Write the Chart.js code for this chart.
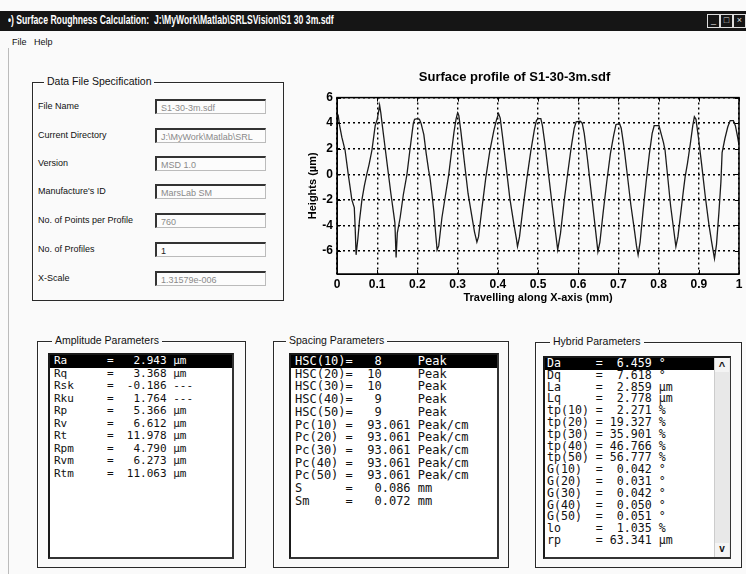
<!DOCTYPE html>
<html><head><meta charset="utf-8">
<script src="https://cdn.jsdelivr.net/npm/chart.js@4.4.0/dist/chart.umd.min.js"></script>
<style>
html,body{margin:0;padding:0}
body{width:746px;height:574px;background:#fafafa;position:relative;overflow:hidden;font-family:"Liberation Sans",Arial,sans-serif;color:#111}
.a{position:absolute}
#tb{left:0;top:11px;width:746px;height:20px;background:#151515}
#tbt{left:8px;top:13px;color:#fff;font-weight:bold;font-size:12px;white-space:nowrap;transform-origin:0 0}
.wb{top:14px;width:11px;height:12px;border:1px solid #ddd;color:#ddd;font-size:9px;line-height:11px;text-align:center}
#menu{left:12px;top:37px;font-size:9px}
.grp{border:1px solid #2a2a2a;box-shadow:inset 1px 1px 0 #fff}
.gt{font-size:10.5px;background:#fafafa;padding:0 3px;white-space:nowrap}
.lbl{left:38px;font-size:9px;white-space:nowrap}
.fld{left:155px;width:111px;height:15px;border-top:2px solid #333;border-left:2px solid #333;border-right:1px solid #bbb;border-bottom:1px solid #bbb;font-size:9px;line-height:15px;color:#8a8a8a;padding-left:4px;box-sizing:border-box;white-space:nowrap;overflow:hidden;background:#fcfcfc}
.lb{border-top:2px solid #1a1a1a;border-left:2px solid #1a1a1a;border-right:2px solid #333;border-bottom:2px solid #333;background:#fff;overflow:hidden;box-sizing:border-box}
.lb pre{margin:0;white-space:pre}
.sel{background:#000;color:#fff}
</style></head>
<body>
<div id="tb" class="a"></div>
<div id="tbt" class="a">&#x2022;) Surface Roughness Calculation:&nbsp; J:\MyWork\Matlab\SRLSVision\S1 30 3m.sdf</div>
<div class="a wb" style="left:707px">_</div>
<div class="a wb" style="left:720px">&#x25a1;</div>
<div class="a wb" style="left:733px">&#xd7;</div>
<div id="menu" class="a">File&nbsp;&nbsp; Help</div>
<div class="a" style="left:8px;top:48px;width:1px;height:526px;background:#bbb"></div>

<!-- Data file specification -->
<div class="a grp" style="left:32px;top:82px;width:250px;height:217px"></div>
<div class="a gt" style="left:44px;top:75px">Data File Specification</div>
<div id="spec"></div>

<canvas id="c" class="a" width="456" height="244" style="left:290px;top:66px"></canvas>

<!-- Amplitude -->
<div class="a grp" style="left:37px;top:341px;width:207px;height:225px"></div>
<div class="a gt" style="left:52px;top:334px">Amplitude Parameters</div>
<div class="a lb" id="amp" style="left:48px;top:353px;width:186px;height:206px;font-family:'Liberation Mono',monospace;font-size:11px;line-height:12.5px"></div>

<!-- Spacing -->
<div class="a grp" style="left:273px;top:341px;width:234px;height:225px"></div>
<div class="a gt" style="left:286px;top:334px">Spacing Parameters</div>
<div class="a lb" id="spc" style="left:289px;top:353px;width:210px;height:206px;font-family:'Liberation Mono',monospace;font-size:12px;line-height:12.7px"></div>

<!-- Hybrid -->
<div class="a grp" style="left:535px;top:342px;width:205px;height:224px"></div>
<div class="a gt" style="left:550px;top:335px">Hybrid Parameters</div>
<div class="a lb" id="hyb" style="left:543px;top:356px;width:188px;height:203px;font-family:'DejaVu Sans Mono',monospace;font-size:11.6px;line-height:11.8px"></div>
<div class="a" style="left:714px;top:358px;width:15px;height:199px;background:#e8e8e8;border-left:1px solid #ccc"></div>
<div class="a" style="left:715px;top:358px;width:14px;height:14px;background:#f4f4f4;font-size:11px;text-align:center;line-height:16px;font-weight:bold">^</div>
<div class="a" style="left:715px;top:543px;width:14px;height:14px;background:#f4f4f4;font-size:10px;text-align:center;line-height:12px;font-weight:bold">v</div>

<script>
// ---------- data ----------
const specLabels = ["File Name","Current Directory","Version","Manufacture's ID","No. of Points per Profile","No. of Profiles","X-Scale"];
const specValues = ["S1-30-3m.sdf","J:\\MyWork\\Matlab\\SRL","MSD 1.0","MarsLab SM","760","1","1.31579e-006"];

const ampRows = [
"Ra      =   2.943 \u00b5m",
"Rq      =   3.368 \u00b5m",
"Rsk     =  -0.186 ---",
"Rku     =   1.764 ---",
"Rp      =   5.366 \u00b5m",
"Rv      =   6.612 \u00b5m",
"Rt      =  11.978 \u00b5m",
"Rpm     =   4.790 \u00b5m",
"Rvm     =   6.273 \u00b5m",
"Rtm     =  11.063 \u00b5m"];

const spcRows = [
"HSC(10)=   8     Peak",
"HSC(20)=  10     Peak",
"HSC(30)=  10     Peak",
"HSC(40)=   9     Peak",
"HSC(50)=   9     Peak",
"Pc(10) =  93.061 Peak/cm",
"Pc(20) =  93.061 Peak/cm",
"Pc(30) =  93.061 Peak/cm",
"Pc(40) =  93.061 Peak/cm",
"Pc(50) =  93.061 Peak/cm",
"S      =   0.086 mm",
"Sm     =   0.072 mm"];

const hybRows = [
"Da     =  6.459 \u00b0",
"Dq     =  7.618 \u00b0",
"La     =  2.859 \u00b5m",
"Lq     =  2.778 \u00b5m",
"tp(10) =  2.271 %",
"tp(20) = 19.327 %",
"tp(30) = 35.901 %",
"tp(40) = 46.766 %",
"tp(50) = 56.777 %",
"G(10)  =  0.042 \u00b0",
"G(20)  =  0.031 \u00b0",
"G(30)  =  0.042 \u00b0",
"G(40)  =  0.050 \u00b0",
"G(50)  =  0.051 \u00b0",
"lo     =  1.035 %",
"rp     = 63.341 \u00b5m"];

const profileX = [0.000,0.003,0.006,0.012,0.020,0.028,0.037,0.043,0.045,0.0475,0.052,0.056,0.062,0.068,0.074,0.080,0.087,0.095,0.100,0.104,0.106,0.109,0.112,0.120,0.128,0.134,0.141,0.144,0.147,0.150,0.157,0.165,0.174,0.181,0.187,0.190,0.193,0.200,0.205,0.209,0.216,0.222,0.228,0.231,0.236,0.241,0.245,0.249,0.253,0.261,0.270,0.278,0.285,0.291,0.296,0.300,0.303,0.308,0.316,0.326,0.335,0.342,0.348,0.352,0.360,0.370,0.380,0.390,0.397,0.402,0.406,0.412,0.420,0.430,0.440,0.446,0.449,0.454,0.462,0.472,0.482,0.491,0.496,0.500,0.507,0.511,0.518,0.527,0.536,0.543,0.549,0.556,0.565,0.574,0.583,0.590,0.595,0.605,0.610,0.615,0.623,0.632,0.640,0.645,0.649,0.654,0.662,0.671,0.680,0.688,0.694,0.703,0.707,0.714,0.722,0.731,0.740,0.745,0.749,0.754,0.761,0.769,0.777,0.784,0.789,0.801,0.806,0.812,0.816,0.822,0.830,0.837,0.843,0.848,0.856,0.862,0.866,0.872,0.879,0.885,0.889,0.893,0.899,0.907,0.916,0.925,0.932,0.939,0.944,0.950,0.955,0.958,0.965,0.972,0.978,0.986,0.991,0.996,1.000];
const profileY = [4.8,4.6,3.9,2.9,1.9,0.0,-2.0,-2.6,-4.0,-6.3,-5.0,-3.6,-2.0,-0.9,0.0,0.8,1.9,3.8,4.3,5.0,5.4,4.8,4.0,2.0,0.0,-1.5,-3.1,-3.8,-6.5,-4.6,-3.4,-1.6,0.0,1.8,3.3,4.0,4.3,4.35,4.3,4.0,3.1,1.6,0.3,-0.2,-1.5,-2.9,-4.5,-5.9,-5.6,-3.4,-1.6,0.0,1.8,3.3,4.3,4.8,4.6,3.4,1.2,-1.5,-3.2,-4.5,-5.3,-4.9,-2.8,-0.3,1.8,3.4,4.3,4.75,4.4,2.9,0.8,-1.9,-3.9,-5.0,-5.65,-4.9,-2.8,-0.4,1.8,3.5,4.2,4.35,4.35,3.8,2.2,-0.2,-2.6,-4.4,-5.9,-4.6,-2.1,0.1,2.2,3.6,4.1,4.15,4.0,3.2,1.2,-1.3,-3.5,-4.9,-6.05,-5.3,-3.0,-0.6,1.6,3.0,3.9,3.95,3.6,2.1,0.0,-2.4,-4.4,-5.6,-6.3,-5.3,-3.0,-0.6,1.6,3.2,3.8,3.8,3.2,2.5,1.9,0.0,-2.5,-4.2,-5.65,-4.9,-2.8,-1.2,-0.2,0.9,2.4,3.8,4.5,4.3,2.9,0.8,-1.7,-3.9,-5.3,-6.6,-5.5,-3.0,-0.6,1.7,2.8,3.7,4.2,4.2,3.8,3.0,2.3];

const xTicks = [0,0.1,0.2,0.3,0.4,0.5,0.6,0.7,0.8,0.9,1];
const xTickLabels = ["0","0.1","0.2","0.3","0.4","0.5","0.6","0.7","0.8","0.9","1"];
const yTicks = [-6,-4,-2,0,2,4,6];
const yTickLabels = ["-6","-4","-2","0","2","4","6"];

// ---------- GUI ----------
const tbt = document.getElementById('tbt');
tbt.style.transform = 'scaleX(' + (326 / tbt.scrollWidth) + ')';

const specY = [107,136,164,192,221,250,279];
let h = '';
specLabels.forEach((l,i)=>{
  h += `<div class="a lbl" style="top:${specY[i]-6}px">${l}</div>`;
  h += `<div class="a fld" style="top:${specY[i]-8}px;${specValues[i]==='1'?'color:#222':''}">${specValues[i]}</div>`;
});
document.getElementById('spec').innerHTML = h;

function fill(id, rows, padL){
  const el = document.getElementById(id);
  el.innerHTML = rows.map((r,i)=>`<pre class="${i===0?'sel':''}" style="padding-left:${padL}px">${r}</pre>`).join('');
}
fill('amp', ampRows, 4);
fill('spc', spcRows, 4);
fill('hyb', hybRows, 2);
document.querySelector('#hyb pre').style.marginRight = '15px';

// ---------- chart ----------
const frame = {
  id:'frame',
  afterDraw(c){
    const {ctx, chartArea:a, scales} = c;
    ctx.save();
    ctx.strokeStyle = '#000';
    ctx.lineWidth = 1.5;
    ctx.strokeRect(a.left, a.top, a.right-a.left, a.bottom-a.top);
    ctx.lineWidth = 1;
    ctx.beginPath();
    xTicks.forEach(v=>{
      const px = Math.round(scales.x.getPixelForValue(v)) + 0.5;
      ctx.moveTo(px, a.bottom); ctx.lineTo(px, a.bottom-4);
      ctx.moveTo(px, a.top); ctx.lineTo(px, a.top+4);
    });
    yTicks.forEach(v=>{
      const py = Math.round(scales.y.getPixelForValue(v)) + 0.5;
      ctx.moveTo(a.left, py); ctx.lineTo(a.left+4, py);
      ctx.moveTo(a.right, py); ctx.lineTo(a.right-4, py);
    });
    ctx.stroke();
    ctx.restore();
  }
};

const tickFont = {family:'Liberation Sans', size:12, weight:'bold'};
const gridOpts = {color:'#000', lineWidth:1.4, drawTicks:false, borderDash:[2,3]};
new Chart(document.getElementById('c'), {
  type:'line',
  data:{datasets:[{
    data: profileX.map((x,i)=>({x:x, y:profileY[i]})),
    borderColor:'#1c1c1c', borderWidth:1.3, pointRadius:0, tension:0, fill:false
  }]},
  options:{
    animation:false, responsive:false, devicePixelRatio:1,
    layout:{padding:{left:0,right:7,top:0,bottom:0}},
    plugins:{
      legend:{display:false}, tooltip:{enabled:false},
      title:{display:true, text:'Surface profile of S1-30-3m.sdf', color:'#000',
        font:{family:'Liberation Sans', size:13, weight:'bold'}, padding:{top:4,bottom:12}}
    },
    scales:{
      x:{type:'linear', min:0, max:1,
        afterBuildTicks:s=>{ s.ticks = xTicks.map(v=>({value:v})); },
        afterFit:s=>{ s.height = 36; },
        ticks:{callback:(v,i)=>xTickLabels[i], font:tickFont, color:'#000', padding:3, maxRotation:0, autoSkip:false},
        grid:gridOpts,
        border:{display:true, color:'#000', dash:[2,3]},
        title:{display:true, text:'Travelling along X-axis (mm)', color:'#000',
          font:{family:'Liberation Sans', size:11, weight:'bold'}, padding:{top:0,bottom:5}}
      },
      y:{type:'linear', min:-7.8, max:6,
        afterBuildTicks:s=>{ s.ticks = yTicks.map(v=>({value:v})); },
        afterFit:s=>{ s.width = 47; },
        ticks:{callback:(v,i)=>yTickLabels[i], font:tickFont, color:'#000', padding:4, autoSkip:false},
        grid:gridOpts,
        border:{display:true, color:'#000', dash:[2,3]},
        title:{display:true, text:'Heights (\u00b5m)', color:'#000',
          font:{family:'Liberation Sans', size:11, weight:'bold'}, padding:{top:16,bottom:0}}
      }
    }
  },
  plugins:[frame]
});
</script>
</body></html>
